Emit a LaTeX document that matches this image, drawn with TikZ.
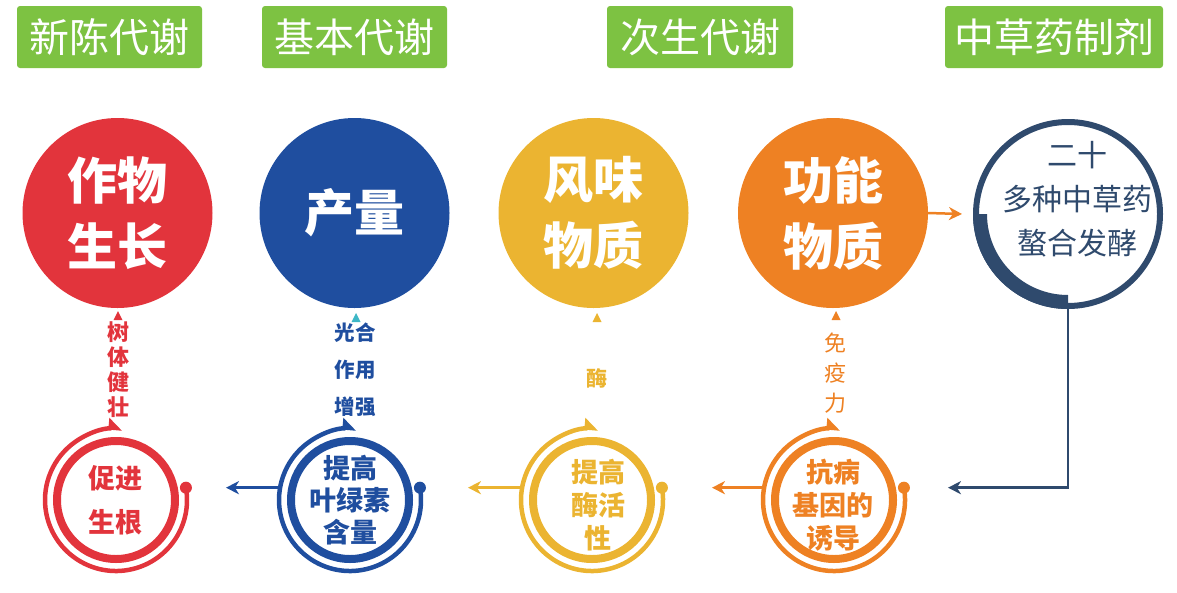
\documentclass[tikz,border=0pt]{standalone}
\usepackage{fontspec}
\setmainfont{Noto Sans CJK SC}
\usetikzlibrary{arrows.meta}
\definecolor{hgreen}{HTML}{7DC242}
\definecolor{cred}{HTML}{E2343C}
\definecolor{cblue}{HTML}{1F4E9F}
\definecolor{cyellow}{HTML}{EBB431}
\definecolor{corange}{HTML}{EE8123}
\definecolor{cnavy}{HTML}{2F4A6D}
\definecolor{cteal}{HTML}{3DB7C6}
\begin{document}
\begin{tikzpicture}[x=1pt,y=1pt,
  hdr/.style={fill=hgreen, rounded corners=3pt, minimum height=62pt, text=white, inner sep=0pt, font=\fontsize{40}{40}\selectfont},
  big/.style={circle, minimum size=190pt, inner sep=0pt, outer sep=0pt, text=white, align=center, font=\fontsize{50}{66}\selectfont\bfseries},
  ringspot/.style={circle, minimum size=142pt, inner sep=0pt, outer sep=0pt},
  stext/.style={align=center, inner sep=0pt},
  vlab/.style={align=center, inner sep=0pt},
  hconn/.style={line width=3pt, -{Stealth[length=13pt,width=13pt,inset=4pt]}},
  tip/.style={fill}
]
\useasboundingbox (0,0) rectangle (1177,-592);

% headers
\node[hdr, minimum width=185pt] (h1) at (109.5,-37) {新陈代谢};
\node[hdr, minimum width=185pt] (h2) at (354.5,-37) {基本代谢};
\node[hdr, minimum width=186pt] (h3) at (700,-37) {次生代谢};
\node[hdr, minimum width=218pt] (h4) at (1054,-37) {中草药制剂};

% big circles
\node[big, fill=cred] (b1) at (117.5,-213) {作物\\生长};
\node[big, fill=cblue] (b2) at (354.5,-213) {产量};
\node[big, fill=cyellow] (b3) at (593.5,-213) {风味\\物质};
\node[big, fill=corange] (b4) at (833,-213) {功能\\物质};

% navy circle
\node[circle, minimum size=190pt, inner sep=0pt, outer sep=0pt] (n5) at (1068,-214) {};
\draw[cnavy, line width=6pt] (n5) circle[radius=92];
\fill[cnavy] ([shift={(180:95)}]n5.center) arc[start angle=180, end angle=270, radius=95]
  -- ([shift={(270:81)}]n5.center) arc[start angle=270, end angle=180, radius=81] -- cycle;
\node[align=center, inner sep=0pt, text=cnavy, font=\fontsize{30}{44}\selectfont] (n5t) at (1077,-199) {二十\\多种中草药\\螯合发酵};

% small rings
\foreach \n/\cx/\c in {s1/116/cred, s2/350/cblue, s3/592/cyellow, s4/834/corange} {
  \node[ringspot] (\n) at (\cx,-500) {};
  \draw[\c, line width=8pt] (\n.center) circle[radius=59];
  \draw[\c, line width=4.5pt, -{Triangle[harpoon,length=12pt,width=20pt]}] (\n.10) arc[start angle=10, end angle=-275, radius=71];
  \fill[\c] (\n.10) circle[radius=6];
}

% small circle texts
\node[stext, text=cred, font=\fontsize{27}{44}\selectfont\bfseries] (t1) at (115,-500) {促进\\生根};
\node[stext, text=cblue, font=\fontsize{27}{32}\selectfont\bfseries] (t2) at (350,-500) {提高\\叶绿素\\含量};
\node[stext, text=cyellow, font=\fontsize{27}{33}\selectfont\bfseries] (t3) at (598,-505) {提高\\酶活\\性};
\node[stext, text=corange, font=\fontsize{27}{33}\selectfont\bfseries] (t4) at (833,-505) {抗病\\基因的\\诱导};

% vertical labels and tips
\fill[cred] (118,-311) -- (113.5,-320) -- (122.5,-320) -- cycle;
\node[vlab, text=cred, font=\fontsize{22}{25}\selectfont\bfseries] (l1) at (118,-370) {树\\体\\健\\壮};
\fill[cteal] (356,-313) -- (351.5,-322) -- (360.5,-322) -- cycle;
\node[vlab, text=cblue, font=\fontsize{20.5}{37}\selectfont\bfseries] (l2) at (355,-370) {光合\\作用\\增强};
\fill[cyellow] (597,-313) -- (592.5,-322) -- (601.5,-322) -- cycle;
\node[vlab, text=cyellow, font=\fontsize{21}{21}\selectfont\bfseries] (l3) at (597,-378) {酶};
\fill[corange] (836,-311) -- (831.5,-320) -- (840.5,-320) -- cycle;
\node[vlab, text=corange, font=\fontsize{22}{30}\selectfont] (l4) at (835,-373) {免\\疫\\力};

% connectors
\coordinate (e1) at ([xshift=40]s1.10);
\coordinate (e2) at ([xshift=48]s2.10);
\coordinate (e3) at ([xshift=50]s3.10);
\coordinate (e4) at ([xshift=44]s4.10);
\draw[hconn, cblue] (s2.170) -- (e1);
\draw[hconn, cyellow] (s3.170) -- (e2);
\draw[hconn, corange] (s4.170) -- (e3);
\draw[hconn, corange, line width=2.5pt] (b4.east) -- ([xshift=-11]n5.west);
\draw[hconn, cnavy, line width=2.5pt] (n5.south) |- (e4);
\end{tikzpicture}
\end{document}
